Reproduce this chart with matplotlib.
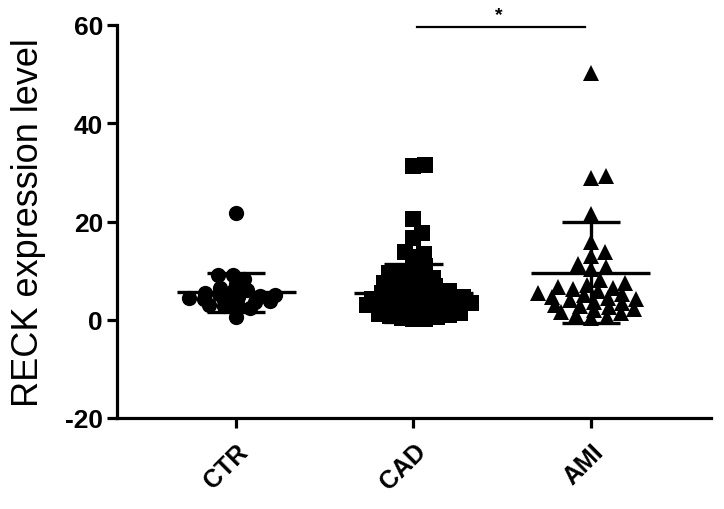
import numpy as np
import matplotlib
matplotlib.use("Agg")
import matplotlib.pyplot as plt

# ---------------- data ----------------
categories = ["CTR", "CAD", "AMI"]
ctr_values = [21.8, 9.2, 9.2, 8.3, 7.2, 6.5, 6.0, 5.8, 5.5, 5.2, 5.0, 4.8, 4.6,
              4.4, 4.2, 4.0, 3.8, 3.6, 3.3, 3.0, 2.7, 2.4, 2.0, 0.6]
cad_values = [31.6, 31.3, 20.5, 17.7, 16.7, 13.8, 13.4, 12.8, 11.0, 10.6, 9.5,
              9.3, 9.0, 8.6, 8.2, 7.8, 7.5, 7.2, 6.9, 6.6, 6.3, 6.0, 5.8, 5.6,
              5.4, 5.2, 5.0, 4.8, 4.6, 4.5, 4.3, 4.2, 4.0, 3.9, 3.7, 3.6, 3.4,
              3.3, 3.1, 3.0, 2.8, 2.7, 2.5, 2.4, 2.2, 2.0, 1.9, 1.7, 1.5, 1.3,
              1.1, 0.9, 0.7, 0.5, 0.3, 0.2, 0.1]
ami_values = [50.3, 29.2, 28.8, 21.5, 15.9, 13.8, 13.0, 11.4, 10.8, 10.4, 8.0,
              7.5, 7.0, 6.7, 6.5, 6.2, 5.8, 5.5, 5.2, 5.0, 4.7, 4.4, 4.2, 4.0,
              3.7, 3.4, 3.1, 2.8, 2.5, 2.2, 1.9, 1.6, 1.3, 1.0, 0.6, 0.3]
group_means = [5.6, 5.5, 9.6]
group_sds = [4.0, 5.9, 10.3]
y_ticks = [-20, 0, 20, 40, 60]
sig_pair = (1, 2)
sig_label = "*"
y_label = "RECK expression level"

markers = ["o", "s", "^"]
groups = [ctr_values, cad_values, ami_values]

plt.rcParams['font.family'] = ['Liberation Sans', 'DejaVu Sans']

fig = plt.figure(figsize=(7.24, 5.10), dpi=100)
ax = fig.add_axes([117 / 724, 91 / 510, 594 / 724, 393 / 510])
ax.set_xlim(-0.672, 2.678)
ax.set_ylim(-20, 60)

ms = 11.0  # marker size in points
spread_px = [15.0, 12.0, 16.0]   # horizontal spacing of neighbours
y_stretch = [2.4, 1.75, 2.0]     # vertical weighting of collision distance


def swarm_offsets(values, center, cdist, k):
    """Beeswarm with elliptical collision: returns x positions (data units)."""
    disp = ax.transData.transform([(center, v) for v in values])
    order = np.argsort(values)
    placed = []
    xs_px = np.zeros(len(values))
    for i in order:
        px, py = disp[i]
        cands = [0.0]
        for qx, qy in placed:
            dy = (py - qy) * k
            if abs(dy) < cdist:
                dx = np.sqrt(cdist ** 2 - dy ** 2)
                cands += [qx + dx - px, qx - dx - px]
        cands = sorted(cands, key=lambda c: abs(c))
        chosen = 0.0
        for c in cands:
            ok = True
            for qx, qy in placed:
                if (px + c - qx) ** 2 + ((py - qy) * k) ** 2 < cdist ** 2 - 1e-6:
                    ok = False
                    break
            if ok:
                chosen = c
                break
        placed.append((px + chosen, py))
        xs_px[i] = px + chosen
    inv = ax.transData.inverted()
    return [inv.transform((x, 0))[0] for x in xs_px]


for gi, (vals, mk) in enumerate(zip(groups, markers)):
    xs = swarm_offsets(vals, gi, spread_px[gi], y_stretch[gi])
    ax.plot(xs, vals, linestyle="none", marker=mk, markersize=ms,
            color="black", markeredgewidth=0, zorder=3)
    m, s = group_means[gi], group_sds[gi]
    ax.hlines(m, gi - 0.335, gi + 0.335, color="black", lw=2.4, zorder=4)
    ax.hlines([m - s, m + s], gi - 0.165, gi + 0.165, color="black", lw=2.4, zorder=4)
    ax.vlines(gi, m - s, m + s, color="black", lw=2.4, zorder=4)

# significance bar
ax.plot([sig_pair[0] + 0.02, sig_pair[1] - 0.03], [59.6, 59.6], color="black",
        lw=1.6, clip_on=False, zorder=5)
ax.text((sig_pair[0] + sig_pair[1]) / 2 - 0.02, 60.3, sig_label, ha="center",
        va="bottom", fontsize=14, fontweight="bold", clip_on=False)

for side in ["top", "right"]:
    ax.spines[side].set_visible(False)
for side in ["left", "bottom"]:
    ax.spines[side].set_linewidth(2.3)

ax.set_yticks(y_ticks)
ax.set_yticklabels([str(t) for t in y_ticks], fontsize=19, fontweight="bold")
ax.set_xticks(range(len(categories)))
ax.set_xticklabels(categories, fontsize=18, fontweight="bold", rotation=45,
                   ha="right", rotation_mode="anchor")
ax.tick_params(axis="both", width=2.3, length=7, direction="out")
ax.tick_params(axis="y", pad=3)
ax.tick_params(axis="x", pad=8)
ax.set_ylabel(y_label, fontsize=26)
ax.yaxis.set_label_coords(-0.12, 0.5)

fig.savefig("out.png", dpi=100)
